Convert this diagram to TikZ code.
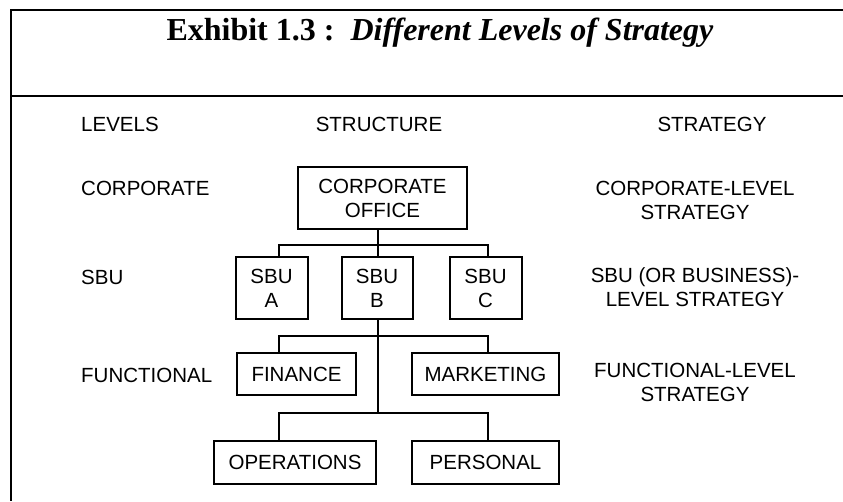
\documentclass[tikz,border=0pt]{standalone}
\usepackage{fontspec}
\setmainfont{Liberation Sans}
\newfontfamily\titlefont{Liberation Serif}
\usetikzlibrary{positioning}

\newcommand\lbl{\fontsize{20.5}{24}\selectfont}

\begin{document}
\begin{tikzpicture}[x=1pt,y=-1pt]
\tikzset{
     orgbox/.style={draw, line width=2pt, inner sep=0pt, align=center, font=\lbl},
     lvltext/.style={anchor=base west, inner sep=0pt, font=\lbl},
     strattext/.style={anchor=base, inner sep=0pt, align=center, font=\lbl},
     link/.style={line width=2pt}}

\useasboundingbox (0,0) rectangle (843,501);

% The frame
\draw [line width=2.4pt] (843,10) -- (11,10) -- (11,501);
\draw [line width=2.4pt] (11,96) -- (843,96);

\node (title) [anchor=base, inner sep=0pt] at (440,40)
  {\titlefont\fontsize{32}{36}\selectfont\bfseries Exhibit 1.3 :\ \ \textit{Different Levels of Strategy}};

% The headings and levels
\node (levels)    [lvltext] at (81,131) {LEVELS};
\node (structure) [strattext] at (379,131) {STRUCTURE};
\node (strategy)  [strattext] at (712,131) {STRATEGY};

\node (corplvl) [lvltext] at (81,195) {CORPORATE};
\node (sbulvl)  [lvltext] at (81,284) {SBU};
\node (funclvl) [lvltext] at (81,382) {FUNCTIONAL};

% base sits on the last line
\node (corpstrat) [strattext] at (695,219) {CORPORATE-LEVEL\\STRATEGY};
\node (sbustrat)  [strattext] at (695,306) {SBU (OR BUSINESS)-\\LEVEL STRATEGY};
\node (funcstrat) [strattext] at (695,401) {FUNCTIONAL-LEVEL\\STRATEGY};

% The boxes
\node (office) [orgbox, minimum width=169pt, minimum height=62pt] at (382.5,198) {CORPORATE\\OFFICE};
\node (sbub) [orgbox, minimum width=71pt, minimum height=62pt] at (377,288) {SBU\\B};
\node (sbua) [orgbox, minimum width=72pt, minimum height=62pt, left=32pt of sbub] {SBU\\A};
\node (sbuc) [orgbox, minimum width=72pt, minimum height=62pt, right=35pt of sbub] {SBU\\C};

\node (finance)   [orgbox, minimum width=119pt, minimum height=42pt] at (296.5,374) {FINANCE};
\node (marketing) [orgbox, minimum width=147pt, minimum height=42pt] at (485.5,374) {MARKETING};
\node (operations) [orgbox, minimum width=162pt, minimum height=43pt] at (295,462.5) {OPERATIONS};
\node (personal)  [orgbox, minimum width=147pt, minimum height=43pt] at (485.5,462.5) {PERSONAL};

% The connectors
\coordinate (lcol) at (279,0);
\coordinate (rcol) at (488,0);
\coordinate (bar1) at (378,245);
\coordinate (bar2) at (378,336);
\coordinate (bar3) at (378,413);

\draw [link] (office.south -| bar1) -- (sbub.north -| bar1);
\draw [link] (sbua.north -| lcol) |- (bar1) -| (sbuc.north -| rcol);
\draw [link] (sbub.south -| bar2) -- (bar3);
\draw [link] (finance.north -| lcol) |- (bar2) -| (marketing.north -| rcol);
\draw [link] (operations.north -| lcol) |- (bar3) -| (personal.north -| rcol);
\end{tikzpicture}
\end{document}
